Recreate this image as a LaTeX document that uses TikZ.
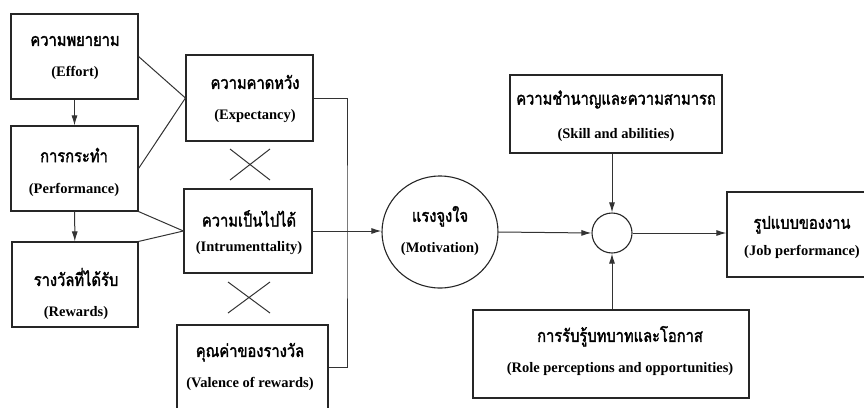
\documentclass[tikz,border=0pt]{standalone}
\usepackage{fontspec}
\setmainfont{Liberation Serif}
\newfontfamily\thaifnt[Script=Thai, FakeStretch=0.84, AutoFakeBold=2]{Loma}
\newcommand\thai{\fontsize{17.5}{31}\selectfont\thaifnt\bfseries}
\usetikzlibrary{arrows.meta,shapes.geometric}
\begin{document}
\begin{tikzpicture}[x=1pt,y=-1pt,
  box/.style={draw=black!85, line width=1.1pt, inner sep=0pt},
  txt/.style={align=center, inner sep=0pt, font=\fontsize{14.5}{31}\selectfont\bfseries},
  con/.style={draw=black!80, line width=1pt},
  arr/.style={con, -{Latex[length=10pt,width=6pt]}},
  crs/.style={draw=black!80, line width=1pt}]
\useasboundingbox (0,0) rectangle (864,407);
% boxes
\node[box, minimum width=127pt, minimum height=85pt] (eff) at (74.5,56.5) {};
\node[box, minimum width=127pt, minimum height=85pt] (perf) at (74.5,168.5) {};
\node[box, minimum width=126pt, minimum height=85pt] (rew) at (75,284.5) {};
\node[box, minimum width=127pt, minimum height=86pt] (exp) at (249.5,98) {};
\node[box, minimum width=128pt, minimum height=84pt] (ins) at (248,231) {};
\node[box, minimum width=151pt, minimum height=84pt] (val) at (252.5,367) {};
\node[box, ellipse, minimum width=116pt, minimum height=112pt] (mot) at (440,232) {};
\node[box, circle, minimum size=40pt] (sum) at (612,233) {};
\node[box, minimum width=212pt, minimum height=78pt] (skill) at (616,114) {};
\node[box, minimum width=150pt, minimum height=85pt] (job) at (802,234.5) {};
\node[box, minimum width=276pt, minimum height=88pt] (role) at (611,354) {};
% texts
\node[txt] (effT) at (75,58) {{\thai ความพยายาม}\\(Effort)};
\node[txt] (perfT) at (74,172) {{\thai การกระทำ}\\(Performance)};
\node[txt] (rewT) at (76,294) {{\thai รางวัลที่ได้รับ}\\(Rewards)};
\node[txt] (expT) at (255,99) {{\thai ความคาดหวัง}\\(Expectancy)};
\node[txt] (insT) at (249,232.5) {{\thai ความเป็นไปได้}\\[-6pt](Intrumenttality)};
\node[txt] (valT) at (250,367) {{\thai คุณค่าของรางวัล}\\(Valence of rewards)};
\node[txt] (motT) at (440,231) {{\thai แรงจูงใจ}\\(Motivation)};
\node[txt] (skillT) at (616,116) {{\thai ความชำนาญและความสามารถ}\\[3pt](Skill and abilities)};
\node[txt] (jobT) at (802,237.5) {{\thai รูปแบบของงาน}\\[-4pt](Job performance)};
\node[txt] (roleT) at (620,351) {{\thai การรับรู้บทบาทและโอกาส}\\(Role perceptions and opportunities)};
% crosses
\coordinate (c1a) at (230,149); \coordinate (c1b) at (270,180);
\coordinate (c1c) at (230,180); \coordinate (c1d) at (270,149);
\coordinate (c2a) at (228,282); \coordinate (c2b) at (270,313);
\coordinate (c2c) at (228,313); \coordinate (c2d) at (270,282);
\draw[crs] (c1a) -- (c1b) (c1c) -- (c1d);
\draw[crs] (c2a) -- (c2b) (c2c) -- (c2d);
% connectors
\draw[arr] (eff) -- (perf);
\draw[arr] (perf) -- (rew);
\draw[con] (eff.east) -- (exp.west);
\draw[con] (perf.east) -- (exp.west);
\draw[con] (perf.south east) -- (ins.west);
\draw[con] (rew.north east) -- (ins.west);
\coordinate (bus) at (347,231);
\draw[con] (exp.east) -| (bus) |- (val.east);
\draw[arr] (ins.east) -- (ins.east -| mot.west);
\draw[arr] (mot.east) -- (sum.west);
\draw[arr] (sum.east) -- (sum.east -| job.west);
\draw[arr] (sum.north |- skill.south) -- (sum.north);
\draw[arr] (sum.south |- role.north) -- (sum.south);
\end{tikzpicture}
\end{document}
